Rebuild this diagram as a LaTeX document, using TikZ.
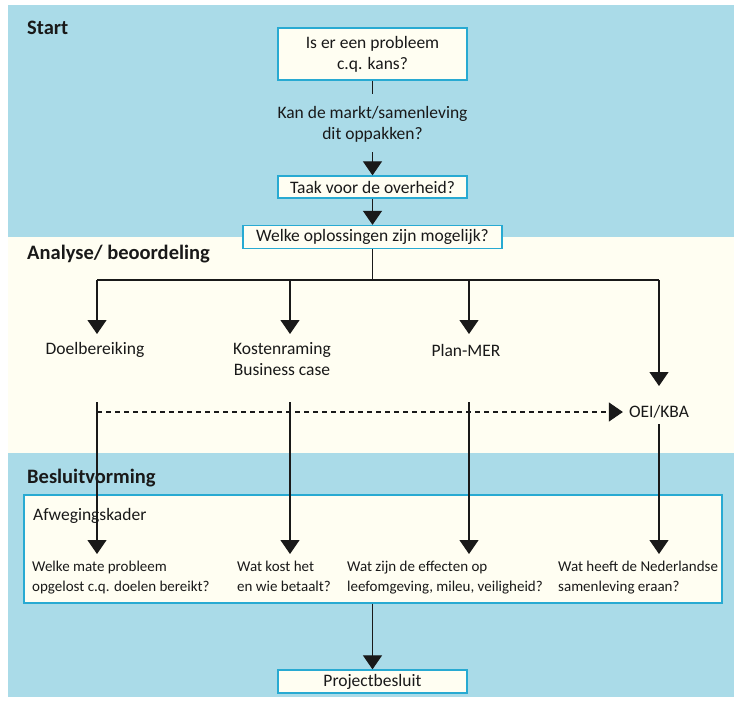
\documentclass[tikz,border=0pt]{standalone}
\usepackage{fontspec}
\setmainfont{Carlito}
\usetikzlibrary{arrows.meta}
\definecolor{bgblue}{RGB}{170,219,232}
\definecolor{cream}{RGB}{255,254,242}
\definecolor{boxline}{RGB}{40,170,210}
\definecolor{ink}{RGB}{25,25,25}
\begin{document}
\begin{tikzpicture}[x=1pt,y=-1pt,
  txt/.style={font=\fontsize{17.5}{21}\selectfont, text=ink, inner sep=0pt, align=center},
  ltxt/.style={font=\fontsize{15}{20}\selectfont, text=ink, inner sep=0pt, align=left, anchor=west},
  head/.style={font=\fontsize{20.5}{22}\selectfont\bfseries, text=ink, inner sep=0pt, anchor=west},
  qbox/.style={txt, draw=boxline, fill=cream, line width=1.3pt, minimum width=189pt},
  conn/.style={draw=ink, line width=1.1pt},
  arr/.style={conn, -{Triangle[width=19pt,length=14pt]}},
  darr/.style={arr, dashed, dash pattern=on 5pt off 4pt}
]
\useasboundingbox (0,0) rectangle (734,709);
% backgrounds
\fill[bgblue] (8,5) rectangle (734,237);
\fill[cream] (8,237) rectangle (734,453);
\fill[bgblue] (8,453) rectangle (734,697);

\node[head] (hstart) at (27,28) {Start};
\node[head] (hanal) at (27,254) {Analyse/ beoordeling};
\node[head] (hbes) at (27,478) {Besluitvorming};

% Afwegingskader frame
\node[draw=boxline, fill=cream, line width=1.3pt, minimum width=698pt, minimum height=108pt, inner sep=0pt] (kader) at (373,549) {};
\node[ltxt, font=\fontsize{17.5}{21}\selectfont] (kaderlbl) at (33,516) {Afwegingskader};

% top boxes
\node[qbox, minimum height=52pt] (prob) at (372.5,54) {Is er een probleem\\c.q. kans?};
\node[txt] (markt) at (372.5,125) {Kan de markt/samenleving\strut\\dit oppakken?\strut};
\node[qbox, minimum height=22pt] (taak) at (372.5,187) {Taak voor de overheid?};
\node[qbox, minimum width=259pt, minimum height=23pt] (welke) at (372.5,237) {Welke oplossingen zijn mogelijk?};

\draw[conn] (prob.south) -- ([yshift=10pt]markt.north);
\draw[arr] ([yshift=-6pt]markt.south) -- (taak.north);
\draw[arr] (taak.south) -- (welke.north);

% branches
\coordinate (br) at (372.5,280);
\coordinate (b1) at (97,280);
\coordinate (b2) at (290,280);
\coordinate (b3) at (469,280);
\coordinate (b4) at (659,280);
\draw[conn] (welke.south) -- (br);
\draw[conn] (b1) -- (b4);

\node[txt] (doel) at (95,350) {Doelbereiking};
\node[txt] (kost) at (282,360.5) {Kostenraming\strut\\Business case\strut};
\node[txt] (mer) at (466,350) {Plan-MER};
\node[txt] (oei) at (659,412) {OEI/KBA};

\coordinate (t1) at (97,334);
\coordinate (t2) at (290,334);
\coordinate (t3) at (469,334);
\coordinate (t4) at (659,386);
\draw[arr] (b1) -- (t1);
\draw[arr] (b2) -- (t2);
\draw[arr] (b3) -- (t3);
\draw[arr] (b4) -- (t4);

% lower starts
\coordinate (s1) at (97,402);
\coordinate (s2) at (290,402);
\coordinate (s3) at (469,402);
\coordinate (s4) at (659,424);
\coordinate (d1) at (97,412);
\draw[darr] (d1) -- ([xshift=-6pt]oei.west);

% questions
\node[ltxt] (q1) at (32,577) {Welke mate probleem\strut\\opgelost c.q. doelen bereikt?\strut};
\node[ltxt] (q2) at (237,577) {Wat kost het\strut\\en wie betaalt?\strut};
\node[ltxt] (q3) at (347,577) {Wat zijn de effecten op\strut\\leefomgeving, mileu, veiligheid?\strut};
\node[ltxt] (q4) at (558,577) {Wat heeft de Nederlandse\strut\\samenleving eraan?\strut};

\coordinate (e1) at (97,554);
\coordinate (e2) at (290,554);
\coordinate (e3) at (469,554);
\coordinate (e4) at (659,554);
\draw[arr] (s1) -- (e1);
\draw[arr] (s2) -- (e2);
\draw[arr] (s3) -- (e3);
\draw[arr] (s4) -- (e4);

\node[qbox, minimum height=23pt] (proj) at (372.5,681.5) {Projectbesluit};
\draw[arr] (kader.south -| proj) -- (proj.north);
\end{tikzpicture}
\end{document}
